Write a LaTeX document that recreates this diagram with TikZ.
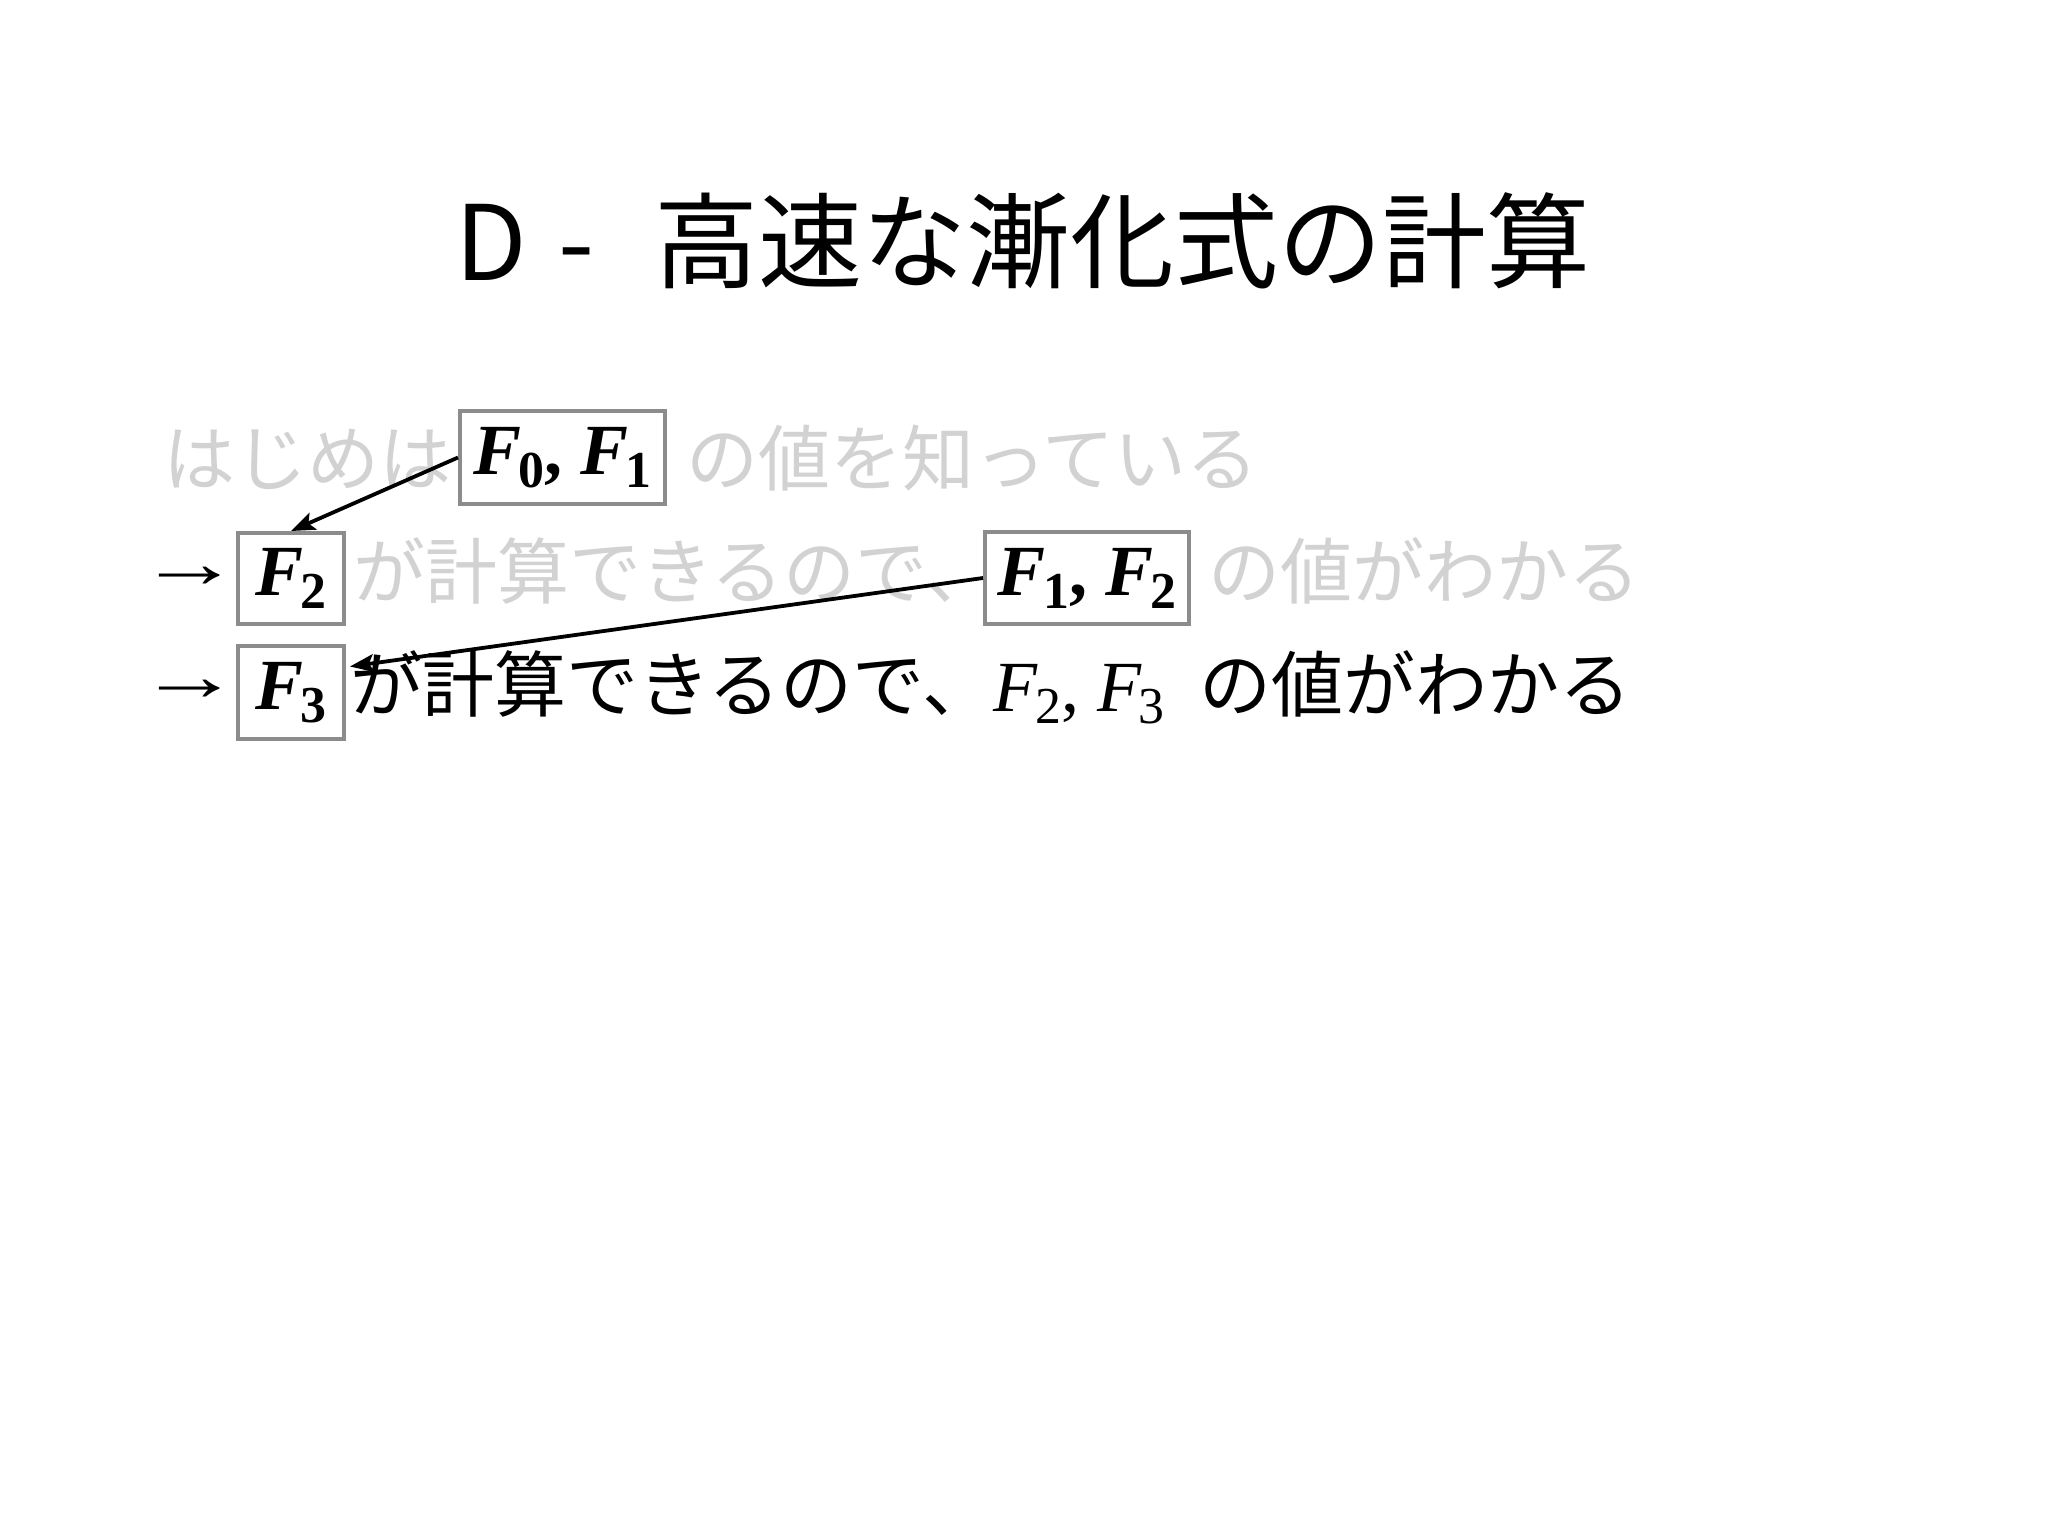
\documentclass[tikz,border=0pt]{standalone}
\usepackage{fontspec}
\setmainfont{Liberation Serif}
\newfontfamily\jp{Noto Sans CJK JP}
\usetikzlibrary{calc,arrows.meta}
\definecolor{fadetxt}{HTML}{D2D2D2}
\definecolor{boxgray}{HTML}{8C8C8C}
\newcommand\FF[1]{\textit{F}\kern-0.04em\raisebox{-0.18em}{\scalebox{0.72}{#1}}}
\newcommand\thinarrow{\raisebox{5.5pt}{\scalebox{1.42}[1]{→}}}
\tikzset{
  titletxt/.style={font=\jp\fontsize{52pt}{60pt}\selectfont, inner sep=0pt},
  bodytxt/.style={font=\jp\fontsize{36pt}{42pt}\selectfont, inner sep=0pt, anchor=base west},
  faded/.style={text=fadetxt},
  fbox/.style={draw=boxgray, line width=2pt, inner sep=0pt, font=\fontsize{36pt}{42pt}\selectfont\bfseries},
  link/.style={-{Stealth[length=12pt,width=9pt,inset=2.5pt]}, line width=1.9pt, black},
  arrowtxt/.style={font=\fontsize{36pt}{42pt}\selectfont, inner sep=0pt, anchor=base west}
}
\begin{document}
\begin{tikzpicture}[x=0.5pt,y=-0.5pt]
\useasboundingbox[fill=white] (0,0) rectangle (2048,1536);
% title
\node[titletxt, anchor=base west] (title) at (455,280) {D\hspace{0.3em}-\hspace{0.58em}高速な漸化式の計算};
% line 1
\node[bodytxt, faded] (t1a) at (163,485) {はじめは};
\node[fbox, minimum width=102.5pt, minimum height=46.5pt] (b01) at (562.5,457.5) {\FF{0}, \FF{1}};
\node[bodytxt, faded] (t1b) at (686,485) {の値を知っている};
% line 2
\node[arrowtxt] (ar2) at (138,598) {\thinarrow};
\node[fbox, minimum width=53pt, minimum height=45.5pt] (b2) at (291,578.5) {\FF{2}};
\node[bodytxt, faded] (t2a) at (353,598) {が計算できるので、};
\node[fbox, minimum width=102pt, minimum height=46pt] (b12) at (1087,578) {\FF{1}, \FF{2}};
\node[bodytxt, faded] (t2b) at (1208,598) {の値がわかる};
% line 3
\node[arrowtxt] (ar3) at (138,711) {\thinarrow};
\node[fbox, minimum width=53pt, minimum height=46.5pt] (b3) at (291,692.5) {\FF{3}};
\node[bodytxt] (t3a) at (350,711) {が計算できるので、};
\node[arrowtxt] (t3f) at (993,711) {\FF{2}, \FF{3}};
\node[bodytxt] (t3b) at (1199,711) {の値がわかる};
% connectors
\coordinate (a2end) at ($(b3.east)+(4,-26)$);
\draw[link] (b01.west) -- (b2.north);
\draw[link] (b12.west) -- (a2end);
\end{tikzpicture}
\end{document}
